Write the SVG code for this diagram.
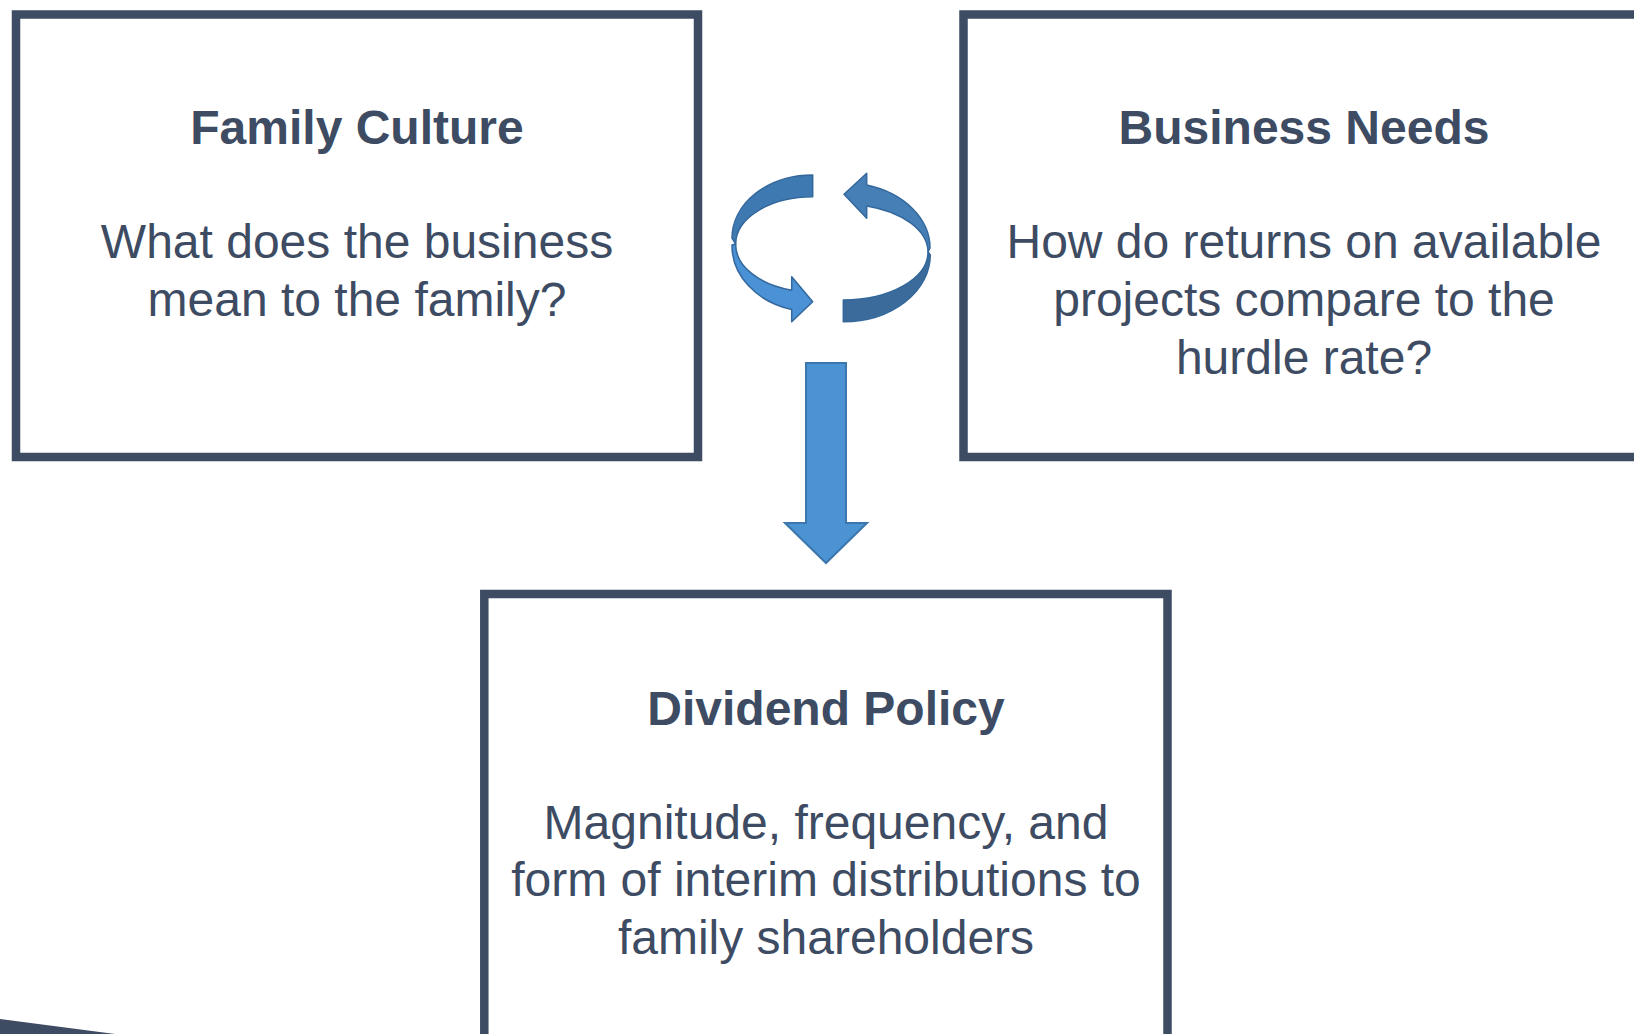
<svg xmlns="http://www.w3.org/2000/svg" width="1634" height="1034" viewBox="0 0 1634 1034">
  <style>
    .box { fill: #ffffff; stroke: #3d4b63; stroke-width: 8.5; }
    .title { font-family: "Liberation Sans", Arial, sans-serif; font-size: 48px; font-weight: bold; fill: #3d4b63; text-anchor: middle; }
    .body { font-family: "Liberation Sans", Arial, sans-serif; font-size: 48px; fill: #3d4b63; text-anchor: middle; }
    .arrow-edge { stroke: #34689c; stroke-width: 1.5; stroke-linejoin: round; }
  </style>

  <rect width="1634" height="1034" fill="#ffffff"/>

  <!-- slanted dark band in the lower-left corner -->
  <polygon points="0,1019 115,1034 0,1034" fill="#3d4b63"/>

  <g id="family-culture">
    <rect class="box" x="16" y="14.5" width="682" height="442.5"/>
    <text class="title" x="357" y="144.3">Family Culture</text>
    <text class="body" x="357" y="258.3">What does the business</text>
    <text class="body" x="357" y="315.5">mean to the family?</text>
  </g>

  <g id="business-needs">
    <rect class="box" x="963.5" y="14.5" width="760" height="442.5"/>
    <text class="title" x="1304" y="144.3">Business Needs</text>
    <text class="body" x="1304" y="258.3">How do returns on available</text>
    <text class="body" x="1304" y="316">projects compare to the</text>
    <text class="body" x="1304" y="373.6">hurdle rate?</text>
  </g>

  <g id="dividend-policy">
    <rect class="box" x="484.3" y="594" width="683.2" height="520"/>
    <text class="title" x="826" y="724.5">Dividend Policy</text>
    <text class="body" x="826" y="838.5">Magnitude, frequency, and</text>
    <text class="body" x="826" y="896">form of interim distributions to</text>
    <text class="body" x="826" y="953.5">family shareholders</text>
  </g>

  <g id="connectors">
    <!-- left circular arrow: far band then near band with head -->
    <path class="arrow-edge" fill="#3e79b1"
          d="M812.7,175 A80.7,63 0 0 0 732,238 L735.7,244 A77,47.3 0 0 1 812.7,196.7 Z"/>
    <path class="arrow-edge" fill="#4a91d6"
          d="M735.7,244 A77,47.3 0 0 0 791.7,290.2 L791.7,276.7 L812.7,301.7 L791.7,321.7 L791.7,309.5 A80.7,66 0 0 1 732,245 Z"/>

    <!-- right circular arrow: band with head then lower band -->
    <path class="arrow-edge" fill="#467fb6"
          d="M866.7,185 L866.7,173.3 L844,194.3 L866.7,218.3 L866.7,205.9 A84.7,48 0 0 1 928,252 L930,248 A86.7,65.4 0 0 0 866.7,185 Z"/>
    <path class="arrow-edge" fill="#3a6b9a"
          d="M928,252 A84.7,48 0 0 1 843.3,300 L843.3,321.7 A87,67 0 0 0 930.3,254.7 Z"/>

    <!-- downward block arrow -->
    <path fill="#4b93d2" stroke="#3b76ad" stroke-width="2" stroke-linejoin="miter"
          d="M806,363 L846,363 L846,523 L867,523 L826,563 L785,523 L806,523 Z"/>
  </g>
</svg>
